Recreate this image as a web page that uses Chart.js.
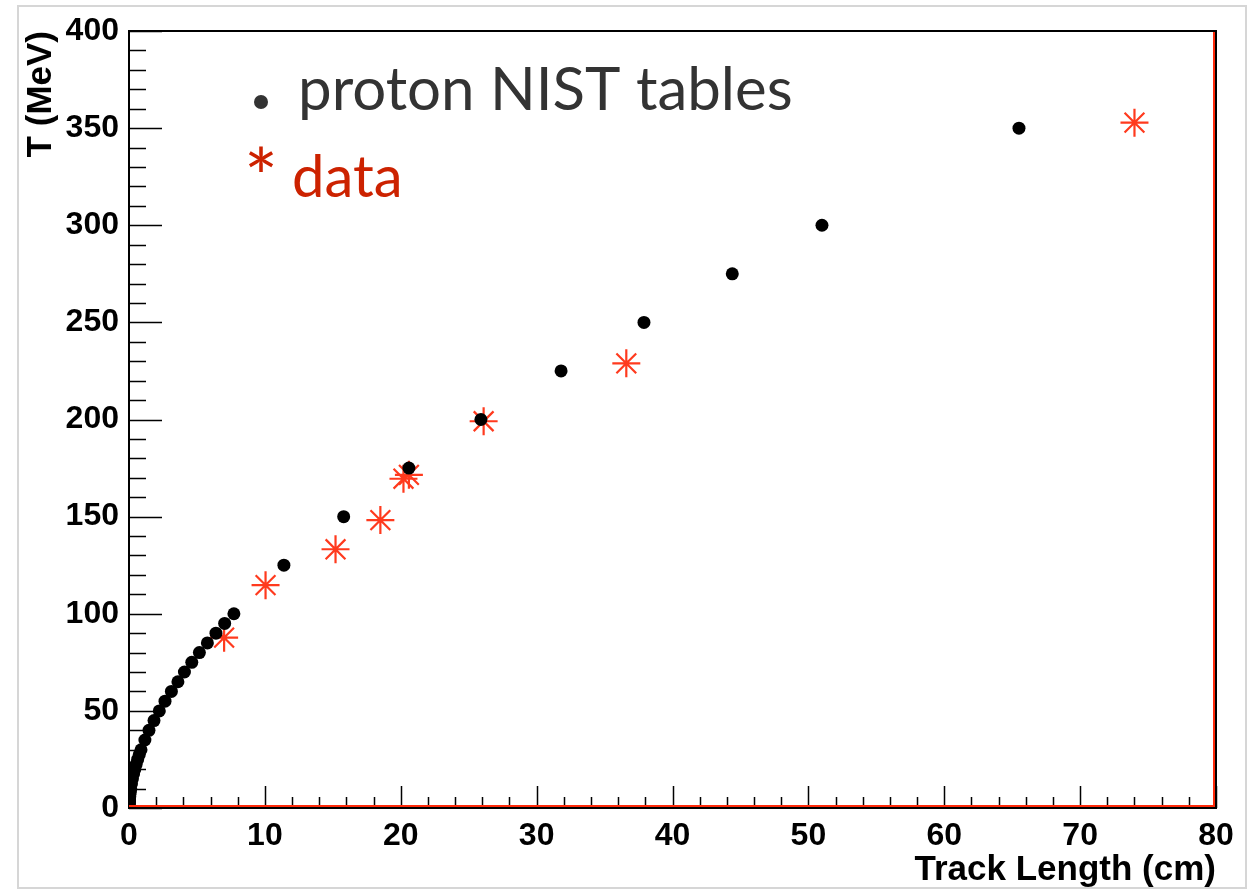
<!DOCTYPE html>
<html>
<head>
<meta charset="utf-8">
<script src="https://cdn.jsdelivr.net/npm/chart.js@4.4.1/dist/chart.umd.min.js"></script>
<style>
  html, body { margin: 0; padding: 0; background: #fff; }
  #wrap { width: 1260px; height: 889px; }
</style>
</head>
<body>
<div id="wrap"><canvas id="rangeChart" width="1260" height="889"></canvas></div>
<script>
// proton range from the NIST tables (black dots): kinetic energy (MeV) vs range (cm)
const nistEnergy = [1, 1.5, 2, 2.5, 3, 3.5, 4, 4.5, 5, 5.5, 6, 7, 8, 9, 10, 12.5, 15, 17.5, 20, 22.5, 25, 27.5, 30,
                    35, 40, 45, 50, 55, 60, 65, 70, 75, 80, 85, 90, 95, 100, 125, 150, 175, 200, 225, 250, 275, 300, 350];
const nistRange = [0.0025, 0.004, 0.0076, 0.011, 0.015, 0.02, 0.025, 0.03, 0.036, 0.043, 0.049, 0.064, 0.081, 0.099, 0.123, 0.183, 0.254, 0.336, 0.426, 0.526, 0.637, 0.758, 0.885,
                   1.17, 1.47, 1.84, 2.23, 2.65, 3.12, 3.6, 4.08, 4.62, 5.18, 5.77, 6.4, 7.04, 7.72, 11.4, 15.8, 20.6, 25.9, 31.8, 37.9, 44.4, 51.0, 65.5];

// measured tracks (red stars)
const dataRange = [7.0, 10.05, 15.2, 18.5, 20.2, 20.6, 26.1, 36.6, 74.0];
const dataEnergy = [87.7, 114.7, 133.2, 148.2, 169.5, 171.5, 199.1, 228.9, 352.8];

// axes
const xMin = 0, xMax = 80, xStep = 10, xMinorStep = 2;
const yMin = 0, yMax = 400, yStep = 50, yMinorStep = 10;
const xTitle = 'Track Length (cm)';
const yTitle = 'T (MeV)';
const legendNist = 'proton NIST tables';
const legendData = 'data';

const toPoints = (xs, ys) => xs.map((v, i) => ({ x: v, y: ys[i] }));

// ROOT style frame: inside ticks, black box, red bottom/right edge
const frame = {
    id: 'frame',
    beforeDraw(chart) {
        const { ctx } = chart;
        ctx.save();
        ctx.fillStyle = '#fff';
        ctx.fillRect(0, 0, chart.width, chart.height);
        ctx.strokeStyle = '#d6d6d6';
        ctx.lineWidth = 2;
        ctx.strokeRect(18, 6, 1228, 882);
        ctx.restore();
    },
    afterDatasetsDraw(chart) {
        const { ctx, chartArea: a, scales: { x, y } } = chart;
        ctx.save();
        ctx.strokeStyle = '#000';
        ctx.lineWidth = 1.5;
        ctx.beginPath();
        for (let v = xMin; v <= xMax; v += xMinorStep) {
            const px = Math.round(x.getPixelForValue(v)) + 0.5;
            const len = v % xStep === 0 ? 22 : 11;
            ctx.moveTo(px, a.bottom);
            ctx.lineTo(px, a.bottom - len);
        }
        for (let v = yMin; v <= yMax; v += yMinorStep) {
            const py = Math.round(y.getPixelForValue(v)) + 0.5;
            const len = v % yStep === 0 ? 33 : 17;
            ctx.moveTo(a.left, py);
            ctx.lineTo(a.left + len, py);
        }
        ctx.stroke();

        ctx.lineWidth = 2;
        ctx.strokeRect(a.left, a.top, a.right - a.left, a.bottom - a.top);
        ctx.strokeStyle = '#ff2a0a';
        ctx.beginPath();
        ctx.moveTo(a.left, a.bottom - 2);
        ctx.lineTo(a.right - 2, a.bottom - 2);
        ctx.lineTo(a.right - 2, a.top + 1);
        ctx.stroke();
        ctx.restore();
    },
    afterDraw(chart) {
        const { ctx } = chart;
        ctx.save();
        ctx.textBaseline = 'alphabetic';
        ctx.fillStyle = '#333';
        ctx.beginPath();
        ctx.arc(261, 102, 7, 0, Math.PI * 2);
        ctx.fill();
        ctx.font = '60px Lato';
        ctx.fillText(legendNist, 298, 110);
        ctx.fillStyle = '#cc2200';
        ctx.font = '58px Lato';
        ctx.fillText(legendData, 292, 197);
        ctx.font = '80px Lato';
        ctx.fillText('*', 244, 206);
        ctx.restore();
    }
};

Chart.defaults.font.family = '"Liberation Sans", Arial, sans-serif';
Chart.defaults.color = '#000';

new Chart(document.getElementById('rangeChart').getContext('2d'), {
    type: 'scatter',
    data: {
        datasets: [
            {
                label: legendNist,
                data: toPoints(nistRange, nistEnergy),
                pointStyle: 'circle',
                pointRadius: 6.5,
                pointBackgroundColor: '#000',
                pointBorderWidth: 0
            },
            {
                label: legendData,
                data: toPoints(dataRange, dataEnergy),
                pointStyle: 'star',
                pointRadius: 14,
                pointBorderColor: '#ff3a1e',
                pointBackgroundColor: '#ff3a1e',
                pointBorderWidth: 2.2
            }
        ]
    },
    options: {
        responsive: false,
        animation: false,
        devicePixelRatio: 1,
        events: [],
        layout: { padding: { top: 31, right: 44, left: 0, bottom: 0 } },
        plugins: { legend: { display: false }, tooltip: { enabled: false } },
        scales: {
            x: {
                type: 'linear',
                min: xMin,
                max: xMax,
                grid: { display: false, drawTicks: false },
                border: { display: false },
                ticks: { stepSize: xStep, padding: 9, font: { size: 32, weight: 'bold' } },
                title: { display: true, text: xTitle, align: 'end', padding: { top: 0, bottom: 1 },
                         font: { size: 35, weight: 'bold', lineHeight: 1 } },
                afterFit: (s) => { s.height = 81; }
            },
            y: {
                type: 'linear',
                min: yMin,
                max: yMax,
                grid: { display: false, drawTicks: false },
                border: { display: false },
                ticks: { stepSize: yStep, padding: 10, font: { size: 32, weight: 'bold' } },
                title: { display: true, text: yTitle, align: 'end', padding: { top: 24, bottom: 0 },
                         font: { size: 35, weight: 'bold', lineHeight: 1 } },
                afterFit: (s) => { s.width = 129; }
            }
        }
    },
    plugins: [frame]
});
</script>
</body>
</html>
